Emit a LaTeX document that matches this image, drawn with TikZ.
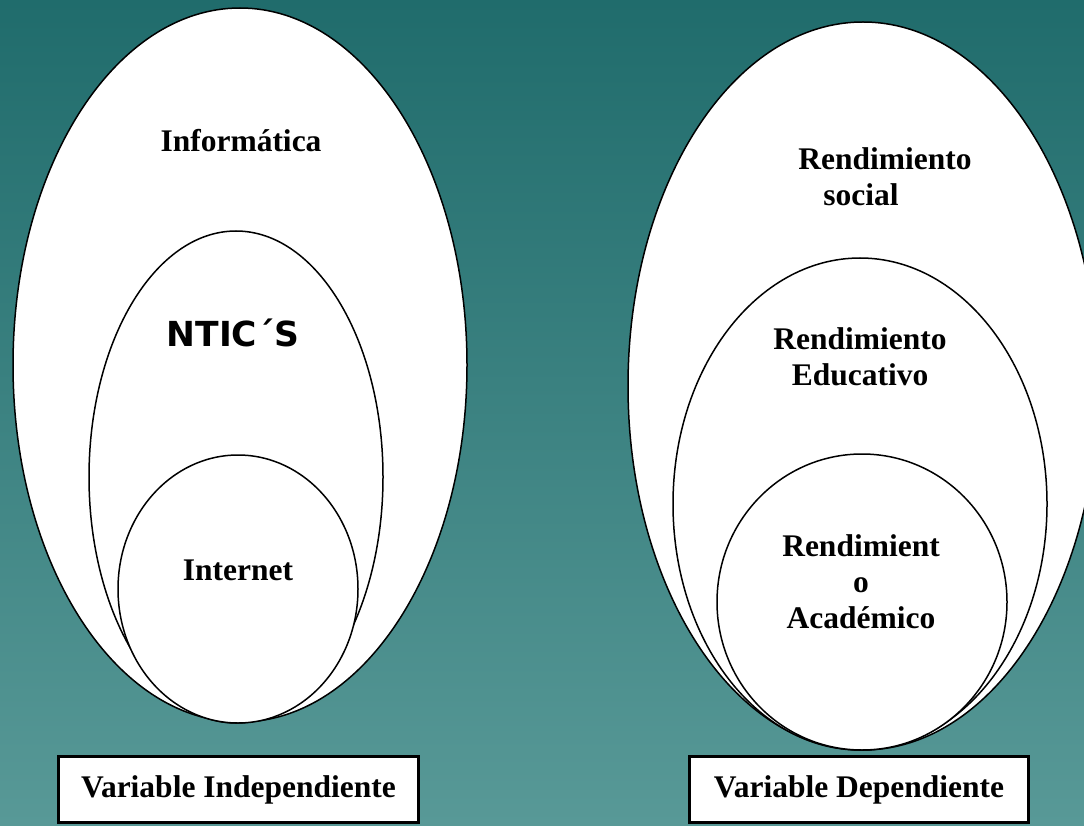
\documentclass[tikz,border=0pt]{standalone}
\usepackage{fontspec}
\setmainfont{Liberation Serif}
\newfontfamily\ntcfont{DejaVu Sans}
\definecolor{bgtop}{RGB}{32,108,108}
\definecolor{bgbot}{RGB}{88,153,151}
\begin{document}
\begin{tikzpicture}[x=1pt,y=-1pt,
        ring/.style={draw=black,line width=1.5pt,fill=white},
        lbl/.style={font=\fontsize{31.5}{36}\selectfont\bfseries,align=center,inner sep=0pt},
        varbox/.style={rectangle,draw=black,line width=3pt,fill=white,minimum height=66pt,font=\fontsize{31.5}{36}\selectfont\bfseries}
    ]
    \useasboundingbox (0,0) rectangle (1084,826);
    \clip (0,0) rectangle (1084,826);
    \shade[top color=bgtop,bottom color=bgbot] (0,0) rectangle (1084,826);

    % independiente
    \draw[ring] (240,365) ellipse [x radius=227,y radius=357];
    \draw[ring] (236,477) ellipse [x radius=147,y radius=246];
    \draw[ring] (238,589) ellipse [x radius=120,y radius=134];
    \node[lbl] (info) at (241,141) {Informática};
    \node[lbl,font=\fontsize{34.5}{38}\selectfont\ntcfont\bfseries] (ntics) at (233,333) {NTIC´S};
    \node[lbl] (inet) at (238,570) {Internet};

    % dependiente
    \draw[ring] (863,386) ellipse [x radius=235,y radius=364];
    \draw[ring] (860,504) ellipse [x radius=187,y radius=246];
    \draw[ring] (862,602) ellipse [x radius=145,y radius=148];
    \node[lbl,align=left] (rsoc) at (885,177) {Rendimiento\\\hspace*{25pt}social};
    \node[lbl] (redu) at (860,357) {Rendimiento\\Educativo};
    \node[lbl] (raca) at (861,582) {Rendimient\\o\\Académico};

    \node[varbox,minimum width=360pt] (vind) at (238.5,789.5) {Variable Independiente};
    \node[varbox,minimum width=339pt] (vdep) at (859,789.5) {Variable Dependiente};
\end{tikzpicture}
\end{document}
